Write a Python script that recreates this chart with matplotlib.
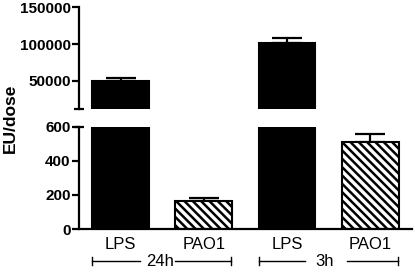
import matplotlib
matplotlib.use("Agg")
import matplotlib.pyplot as plt
import numpy as np

# values
categories = ["LPS", "PAO1", "LPS", "PAO1"]
groups = ["24h", "3h"]
means = [50400, 165, 101000, 510]
errors = [4100, 17, 7600, 48]
hatches = ["", "\\\\\\\\", "", "\\\\\\\\"]
colors = ["black", "white", "black", "white"]

upper_ticks = [50000, 100000, 150000]
lower_ticks = [0, 200, 400, 600]

plt.rcParams["font.family"] = ["Liberation Sans", "DejaVu Sans"]
plt.rcParams["hatch.linewidth"] = 1.8

fig = plt.figure(figsize=(4.15, 2.72), dpi=100)
ax_lo = fig.add_axes([0.190, 0.158, 0.803, 0.376])
ax_hi = fig.add_axes([0.190, 0.599, 0.803, 0.375])

x = np.arange(len(categories))
for ax in (ax_hi, ax_lo):
    ax.bar(x, means, width=0.68, color=colors, edgecolor="black",
           linewidth=1.5, hatch=hatches, zorder=2)
    ax.errorbar(x, means, yerr=[np.zeros(len(errors)), errors], fmt="none",
                ecolor="black", elinewidth=1.6, capsize=10.5, capthick=1.6,
                zorder=1)
    ax.set_xlim(-0.5, 3.5)
    for s in ("top", "right"):
        ax.spines[s].set_visible(False)
    ax.spines["left"].set_linewidth(1.6)
    ax.tick_params(axis="y", direction="out", length=5, width=1.6,
                   labelsize=11, pad=1)

ax_hi.set_ylim(12000, 150000)
ax_hi.set_yticks(upper_ticks)
ax_hi.spines["bottom"].set_visible(False)
ax_hi.set_xticks([])
ax_hi.plot([0], [0], marker="_", markersize=7, mew=1.6, color="black",
           transform=ax_hi.transAxes, clip_on=False)

ax_lo.set_ylim(0, 600)
ax_lo.set_yticks(lower_ticks)
ax_lo.spines["bottom"].set_linewidth(1.6)
ax_lo.set_xticks(x)
ax_lo.set_xticklabels(categories, fontsize=12)
ax_lo.tick_params(axis="x", length=0, pad=6)
ax_lo.plot([0], [1], marker="_", markersize=7, mew=1.6, color="black",
           transform=ax_lo.transAxes, clip_on=False)

for lab in ax_hi.get_yticklabels() + ax_lo.get_yticklabels():
    lab.set_fontweight("bold")

# group brackets under the category labels
tr = ax_lo.get_xaxis_transform()
yb = -0.313
gaps = [(-0.27, 0.16), (-0.25, 0.25)]
for i, g in enumerate(groups):
    left, right = 2 * i - 0.34, 2 * i + 1.33
    mid = 2 * i + 0.5 - 0.03 * i
    gl, gr = gaps[i]
    ax_lo.plot([left, mid + gl], [yb, yb], color="black", lw=1,
               transform=tr, clip_on=False)
    ax_lo.plot([mid + gr, right], [yb, yb], color="black", lw=1,
               transform=tr, clip_on=False)
    for xe in (left, right):
        ax_lo.plot([xe, xe], [yb - 0.035, yb + 0.035], color="black", lw=1,
                   transform=tr, clip_on=False)
    ax_lo.text(mid - 0.02, yb, g, transform=tr, ha="center", va="center",
               fontsize=12)

fig.text(0.025, 0.566, "EU/dose", rotation=90, ha="center", va="center",
         fontsize=12.5, fontweight="bold")

fig.savefig("out.png", dpi=100)
